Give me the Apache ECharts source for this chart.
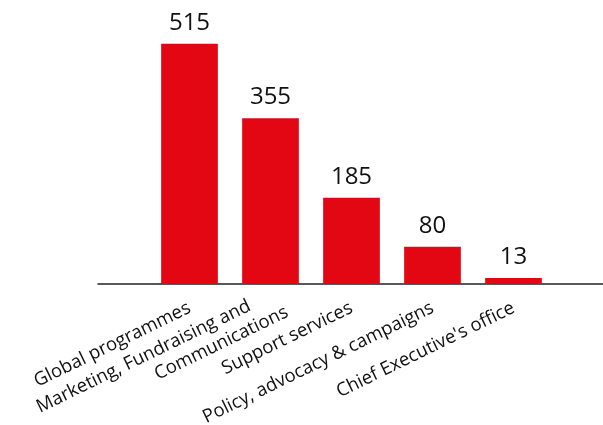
<!DOCTYPE html>
<html>
<head>
<meta charset="utf-8">
<script src="https://cdn.jsdelivr.net/npm/echarts@6/dist/echarts.min.js"></script>
<style>
  html, body { margin: 0; padding: 0; background: #ffffff; }
  #chart { width: 603px; height: 425px; }
</style>
</head>
<body>
<div id="chart"></div>
<script>
// Staff by directorate
const categories = [
  'Global programmes',
  'Marketing, Fundraising and\nCommunications',
  'Support services',
  'Policy, advocacy & campaigns',
  "Chief Executive's office"
];
const values = [515, 355, 185, 80, 13];

const RED = '#e30613';
const FONT = '"Open Sans", sans-serif';
const LABEL_SIZE = 18.5;

const chart = echarts.init(document.getElementById('chart'), null, { renderer: 'canvas' });

// two-line category names: the first line sits back from the tick, the second runs past it
function categoryLabel(name) {
  const lines = name.split('\n');
  if (lines.length < 2) return '{s|' + name + '}';
  return '{first|' + lines[0] + '}\n{second|' + lines[1] + '}';
}

const labelText = { color: '#111111', fontFamily: FONT, fontSize: LABEL_SIZE, lineHeight: 22 };

chart.setOption({
  backgroundColor: '#ffffff',
  animation: false,
  grid: [
    // wide grid carrying only the baseline
    { left: 98, right: 0, top: 4, bottom: 141, outerBoundsMode: 'none', containLabel: false },
    // grid holding the bars
    { left: 149, right: 49, top: 4, bottom: 141, outerBoundsMode: 'none', containLabel: false }
  ],
  xAxis: [
    {
      gridIndex: 0, type: 'value', min: 0, max: 1,
      axisLine: { show: true, lineStyle: { color: '#222222', width: 1.5 } },
      axisTick: { show: false }, axisLabel: { show: false }, splitLine: { show: false }
    },
    {
      gridIndex: 1, type: 'category', data: categories,
      axisLine: { show: false }, axisTick: { show: false },
      axisLabel: {
        interval: 0, rotate: 26, margin: 23,
        formatter: categoryLabel,
        rich: {
          s: labelText,
          first: Object.assign({}, labelText, { padding: [0, 18, 0, 0] }),
          second: Object.assign({}, labelText, { padding: [0, -13, 0, 0] })
        }
      }
    }
  ],
  yAxis: [
    { gridIndex: 0, type: 'value', min: 0, max: 600, show: false },
    { gridIndex: 1, type: 'value', min: 0, max: 600, show: false }
  ],
  series: [
    {
      type: 'bar', xAxisIndex: 1, yAxisIndex: 1,
      data: values, barCategoryGap: '30%',
      itemStyle: { color: RED },
      label: {
        show: true, position: 'top', distance: 9,
        color: '#111111', fontFamily: FONT, fontSize: 24
      }
    }
  ]
});
</script>
</body>
</html>
